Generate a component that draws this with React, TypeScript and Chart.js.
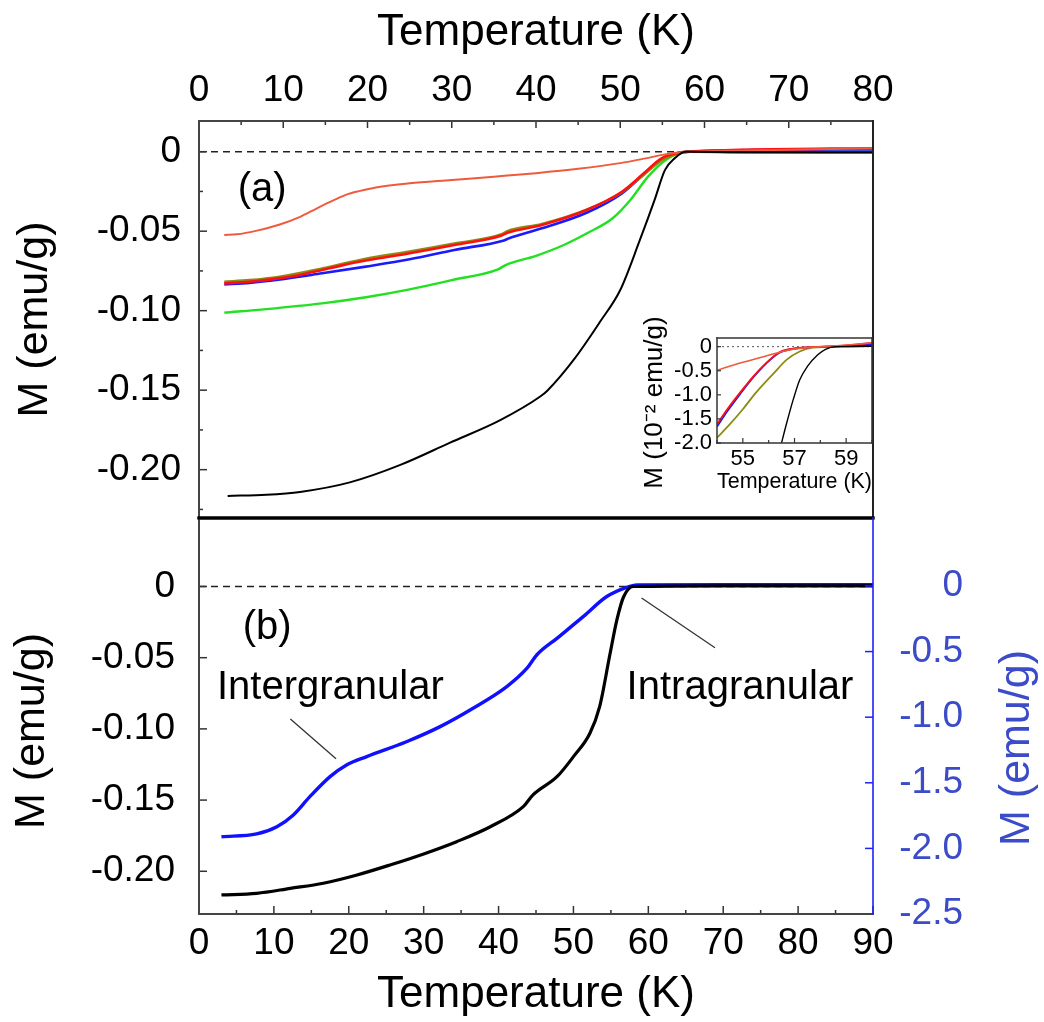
import React, { useEffect, useRef } from 'react';
import { Chart, registerables } from 'chart.js';

Chart.register(...registerables);

const FONT = "'Liberation Sans', Arial, Helvetica, sans-serif";

// ---------------- Panel (a) : axes ----------------
const tempTicksA = [0, 10, 20, 30, 40, 50, 60, 70, 80];
const tempTickLabelsA = ['0', '10', '20', '30', '40', '50', '60', '70', '80'];
const tempMinorA = [5, 15, 25, 35, 45, 55, 65, 75];
const magTicksA = [0, -0.05, -0.1, -0.15, -0.2];
const magTickLabelsA = ['0', '-0.05', '-0.10', '-0.15', '-0.20'];
const magMinorA = [-0.025, -0.075, -0.125, -0.175, -0.225];

// ---------------- Panel (a) : series ----------------
const tempTomatoA = [3, 4.5, 7, 9.5, 12, 14, 16, 17.5, 19, 21, 25, 30, 35, 40, 45, 50, 53, 55, 56.5, 58, 65, 80];
const magTomatoA = [-0.0524, -0.052, -0.0495, -0.046, -0.041, -0.0356, -0.0305, -0.027, -0.0248, -0.0225, -0.0199, -0.0178, -0.0157, -0.0135, -0.0108, -0.0072, -0.0042, -0.002, -0.0008, -0.0002, 0.0008, 0.0022];

const tempRedA = [3, 6, 9.4, 12, 14.6, 17, 19.8, 25, 30.3, 36, 36.6, 40.7, 46, 50.2, 52.8, 54.9, 57, 58.3, 65, 80];
const magRedA = [-0.0828, -0.0818, -0.0797, -0.0775, -0.0744, -0.0715, -0.0685, -0.0639, -0.0587, -0.0525, -0.051, -0.0461, -0.0367, -0.0252, -0.0136, -0.0042, -0.0006, 0, 0.0012, 0.0022];

const tempBlueA = [3, 6, 9.4, 14.6, 19.8, 25, 30.3, 36.2, 36.8, 40.7, 46, 50.2, 52.8, 54.9, 57, 58.3, 65, 80];
const magBlueA = [-0.0835, -0.0825, -0.0805, -0.0765, -0.0723, -0.0677, -0.0618, -0.0558, -0.0545, -0.0482, -0.0384, -0.0262, -0.0142, -0.0046, -0.0007, 0, 0.001, 0.0014];

const tempOliveA = [3, 6, 9.4, 14.6, 19.8, 25, 30.3, 36, 36.6, 40.7, 46, 50.2, 52.8, 54.9, 57, 58.3, 65, 80];
const magOliveA = [-0.0818, -0.0808, -0.0788, -0.0735, -0.0673, -0.0628, -0.0578, -0.0518, -0.05, -0.0455, -0.0365, -0.0255, -0.0145, -0.0055, -0.001, 0, -0.0005, -0.0007];

const tempGreenA = [3, 8, 14.6, 20, 25, 30, 35.5, 36.4, 40, 43.3, 46, 49.1, 51.2, 53.3, 55.4, 57.2, 58.3, 65, 80];
const magGreenA = [-0.1012, -0.099, -0.0954, -0.0914, -0.0866, -0.0808, -0.074, -0.0713, -0.0655, -0.0587, -0.0515, -0.0419, -0.0304, -0.0157, -0.0052, -0.0006, 0, 0, 0];

const tempBlackA = [3.4, 8, 12, 17.9, 23.9, 29.8, 35.7, 40.5, 41.4, 44.6, 47.6, 50, 52.3, 54.1, 55.3, 56.5, 57.7, 65, 80];
const magBlackA = [-0.2165, -0.2158, -0.214, -0.208, -0.197, -0.183, -0.169, -0.154, -0.15, -0.13, -0.107, -0.087, -0.056, -0.03, -0.0116, -0.004, 0, -0.0003, -0.0003];

const zeroTempA = [0, 80];
const zeroMagA = [0, 0];

// ---------------- Panel (b) : axes ----------------
const tempTicksB = [0, 10, 20, 30, 40, 50, 60, 70, 80, 90];
const tempTickLabelsB = ['0', '10', '20', '30', '40', '50', '60', '70', '80', '90'];
const tempMinorB = [5, 15, 25, 35, 45, 55, 65, 75, 85];
const magTicksB = [0, -0.05, -0.1, -0.15, -0.2];
const magTickLabelsB = ['0', '-0.05', '-0.10', '-0.15', '-0.20'];
const magRightTicksB = [0, -0.5, -1.0, -1.5, -2.0, -2.5];
const magRightTickLabelsB = ['0', '-0.5', '-1.0', '-1.5', '-2.0', '-2.5'];

// ---------------- Panel (b) : series ----------------
const tempBlackB = [3, 7.7, 12.2, 16.6, 21.1, 25.5, 30, 34.4, 38.9, 43.3, 44.6, 47.8, 50, 52.2, 53.5, 54.9, 55.8, 56.7, 58, 70, 90];
const magBlackB = [-0.2166, -0.2155, -0.212, -0.2084, -0.2026, -0.1956, -0.1878, -0.1792, -0.1687, -0.1546, -0.1464, -0.1336, -0.1195, -0.1031, -0.0844, -0.0469, -0.0235, -0.0072, 0, 0.0005, 0.0005];

const tempBlueB = [3, 7.7, 10.4, 12.6, 14.8, 17.5, 19.7, 22.4, 27.7, 32.2, 36.6, 41.1, 43.8, 45.1, 47.8, 51.3, 54.4, 57.1, 58.5, 70, 90];
const magBlueB = [-1.911, -1.89, -1.835, -1.745, -1.606, -1.453, -1.364, -1.3, -1.187, -1.072, -0.932, -0.767, -0.627, -0.526, -0.399, -0.234, -0.082, -0.01, 0.008, 0.01, 0.01];

const zeroTempB = [0, 90];
const zeroMagB = [0, 0];

// ---------------- Inset ----------------
const insetTempTicks = [55, 57, 59];
const insetTempTickLabels = ['55', '57', '59'];
const insetTempMinor = [54, 56, 58, 60];
const insetMagTicks = [0, -0.5, -1.0, -1.5, -2.0];
const insetMagTickLabels = ['0', '-0.5', '-1.0', '-1.5', '-2.0'];

const insetTempTomato = [54, 54.9, 55.8, 56.4, 56.95, 57.5, 58.5, 59.4, 60];
const insetMagTomato = [-0.49, -0.34, -0.21, -0.12, -0.055, -0.02, 0.014, 0.05, 0.08];
const insetTempRed = [54, 54.4, 54.9, 55.4, 55.9, 56.4, 56.95, 57.5, 58.8, 60];
const insetMagRed = [-1.61, -1.3, -0.95, -0.62, -0.34, -0.12, -0.04, -0.014, 0.014, 0.08];
const insetTempBlue = [54, 54.4, 54.9, 55.4, 55.9, 56.4, 56.95, 57.5, 58.8, 60];
const insetMagBlue = [-1.66, -1.34, -0.98, -0.64, -0.35, -0.13, -0.045, -0.015, 0.01, 0.04];
const insetTempOlive = [54, 54.5, 55.0, 55.5, 56.2, 56.7, 57.2, 57.7, 58.8, 60];
const insetMagOlive = [-1.89, -1.61, -1.3, -0.96, -0.55, -0.27, -0.1, -0.02, 0, 0.01];
const insetTempBlack = [56.45, 56.7, 56.95, 57.2, 57.5, 57.9, 58.2, 58.6, 60];
const insetMagBlack = [-2.1, -1.58, -1.1, -0.69, -0.41, -0.17, -0.055, 0, 0.01];
const insetZeroTemp = [54, 60];
const insetZeroMag = [0, 0];

// ---------------- helpers ----------------
const C_TOMATO = '#f05a3c';
const C_RED = '#ff1010';
const C_BLUE = '#1a1aff';
const C_GREEN = '#22e022';
const C_OLIVE = '#8c8c14';
const C_BLACK = '#000000';
const C_AXISBLUE = '#3c4bc8';

function series(xs: number[], ys: number[], color: string, width: number, extra: any = {}) {
  return {
    data: xs.map((x, i) => ({ x, y: ys[i] })),
    borderColor: color,
    backgroundColor: color,
    borderWidth: width,
    pointRadius: 0,
    fill: false,
    cubicInterpolationMode: 'monotone',
    ...extra,
  };
}

function axis(o: any) {
  const vertical = o.position === 'left' || o.position === 'right';
  return {
    type: 'linear',
    position: o.position,
    min: o.min,
    max: o.max,
    afterFit: (s: any) => {
      if (vertical) s.width = o.size;
      else s.height = o.size;
      s.paddingTop = 0;
      s.paddingBottom = 0;
      s.paddingLeft = 0;
      s.paddingRight = 0;
    },
    afterBuildTicks: (s: any) => {
      s.ticks = o.ticks.map((v: number) => ({ value: v }));
    },
    grid: { display: false, drawTicks: false, drawOnChartArea: false },
    border: { display: false },
    ticks: {
      autoSkip: false,
      maxRotation: 0,
      minRotation: 0,
      padding: o.pad,
      color: o.color || '#000',
      crossAlign: o.crossAlign || 'near',
      font: { family: FONT, size: o.fontSize, lineHeight: 1.2 },
      callback: (_v: any, i: number) => o.labels[i],
    },
    title: o.title
      ? {
          display: true,
          text: o.title,
          color: o.titleColor || '#000',
          font: { family: FONT, size: o.titleSize, lineHeight: 1.2 },
          padding: o.titlePad,
        }
      : { display: false },
  };
}

function makeOverlay(cfg: any) {
  return {
    id: 'overlay',
    afterDatasetsDraw(chart: any) {
      const { ctx, chartArea: ca, scales } = chart;
      ctx.save();
      // inward ticks
      for (const t of cfg.ticks || []) {
        const s = scales[t.scale];
        ctx.strokeStyle = t.color;
        ctx.lineWidth = t.width;
        const one = (v: number, len: number) => {
          const p = s.getPixelForValue(v);
          ctx.beginPath();
          if (s.position === 'left') { ctx.moveTo(ca.left, p); ctx.lineTo(ca.left + len, p); }
          else if (s.position === 'right') { ctx.moveTo(ca.right, p); ctx.lineTo(ca.right - len, p); }
          else if (s.position === 'top') { ctx.moveTo(p, ca.top); ctx.lineTo(p, ca.top + len); }
          else { ctx.moveTo(p, ca.bottom); ctx.lineTo(p, ca.bottom - len); }
          ctx.stroke();
        };
        t.major.forEach((v: number) => one(v, t.majorLen));
        (t.minor || []).forEach((v: number) => one(v, t.minorLen));
      }
      // frame edges
      ctx.lineCap = 'square';
      for (const e of cfg.edges || []) {
        ctx.strokeStyle = e.color;
        ctx.lineWidth = e.width;
        ctx.beginPath();
        if (e.side === 'left') { ctx.moveTo(ca.left, ca.top); ctx.lineTo(ca.left, ca.bottom); }
        if (e.side === 'right') { ctx.moveTo(ca.right, ca.top); ctx.lineTo(ca.right, ca.bottom); }
        if (e.side === 'top') { ctx.moveTo(ca.left, ca.top); ctx.lineTo(ca.right, ca.top); }
        if (e.side === 'bottom') { ctx.moveTo(ca.left, ca.bottom); ctx.lineTo(ca.right, ca.bottom); }
        ctx.stroke();
      }
      ctx.lineCap = 'butt';
      // leader lines (data coordinates)
      for (const l of cfg.lines || []) {
        const xs = scales[l.xScale];
        const ys = scales[l.yScale];
        ctx.strokeStyle = l.color;
        ctx.lineWidth = l.width;
        ctx.beginPath();
        ctx.moveTo(xs.getPixelForValue(l.x1), ys.getPixelForValue(l.y1));
        ctx.lineTo(xs.getPixelForValue(l.x2), ys.getPixelForValue(l.y2));
        ctx.stroke();
      }
      // texts
      for (const t of cfg.texts || []) {
        let x: number;
        let y: number;
        if (t.data) {
          x = scales[t.data.xScale].getPixelForValue(t.data.x);
          y = scales[t.data.yScale].getPixelForValue(t.data.y);
        } else {
          x = t.edge.side === 'left' ? ca.left - t.edge.offset : ca.right + t.edge.offset;
          y = (ca.top + ca.bottom) / 2 + t.edge.shift;
        }
        ctx.font = t.font;
        ctx.fillStyle = t.color;
        ctx.textAlign = t.align || 'center';
        ctx.textBaseline = 'middle';
        ctx.translate(x, y);
        if (t.rotate) ctx.rotate(t.rotate);
        ctx.fillText(t.text, 0, 0);
        ctx.setTransform(1, 0, 0, 1, 0, 0);
      }
      ctx.restore();
    },
  };
}

function baseOptions(padding: any) {
  return {
    responsive: false,
    maintainAspectRatio: false,
    animation: false,
    events: [],
    layout: { padding },
    plugins: { legend: { display: false }, tooltip: { enabled: false } },
    elements: { point: { radius: 0 } },
  };
}

function configA(): any {
  return {
    type: 'line',
    data: {
      datasets: [
        series(tempBlackA, magBlackA, C_BLACK, 2),
        series(tempTomatoA, magTomatoA, C_TOMATO, 2),
        series(tempRedA, magRedA, C_RED, 2.6),
        series(tempOliveA, magOliveA, C_OLIVE, 2.6),
        series(tempBlueA, magBlueA, C_BLUE, 2.6),
        series(tempGreenA, magGreenA, C_GREEN, 2.4),
        series(zeroTempA, zeroMagA, '#222', 1.6, { borderDash: [7, 5], cubicInterpolationMode: 'default' }),
      ],
    },
    options: {
      ...baseOptions({ left: 0, top: 0, right: 171, bottom: 10 }),
      scales: {
        x: axis({ position: 'top', min: 0, max: 80, size: 121, ticks: tempTicksA, labels: tempTickLabelsA, fontSize: 37, pad: 8, title: 'Temperature (K)', titleSize: 44, titlePad: { top: 6, bottom: 0 } }),
        y: axis({ position: 'left', min: -0.2304, max: 0.0193, size: 199, ticks: magTicksA, labels: magTickLabelsA, fontSize: 37, pad: 18, title: 'M (emu/g)', titleSize: 43, titlePad: { top: 9, bottom: 0 } }),
      },
    },
    plugins: [
      makeOverlay({
        ticks: [
          { scale: 'x', major: tempTicksA, minor: tempMinorA, majorLen: 7, minorLen: 4, color: '#333', width: 1.5 },
          { scale: 'y', major: magTicksA, minor: magMinorA, majorLen: 8, minorLen: 4, color: '#333', width: 1.5 },
        ],
        edges: [
          { side: 'left', color: '#444', width: 2 },
          { side: 'top', color: '#444', width: 2 },
          { side: 'right', color: '#222', width: 2 },
          { side: 'bottom', color: '#000', width: 3 },
        ],
        texts: [
          { text: '(a)', font: `40px ${FONT}`, color: '#000', data: { xScale: 'x', yScale: 'y', x: 7.5, y: -0.024 } },
        ],
      }),
    ],
  };
}

function configB(): any {
  return {
    type: 'line',
    data: {
      datasets: [
        series(tempBlackB, magBlackB, C_BLACK, 3.2),
        series(tempBlueB, magBlueB, '#1010ff', 3.4, { yAxisID: 'y2' }),
        series(zeroTempB, zeroMagB, '#222', 1.6, { borderDash: [7, 5], cubicInterpolationMode: 'default' }),
      ],
    },
    options: {
      ...baseOptions({ left: 0, top: 10, right: 81, bottom: 0 }),
      scales: {
        x: axis({ position: 'bottom', min: 0, max: 90, size: 108, ticks: tempTicksB, labels: tempTickLabelsB, fontSize: 37, pad: 8, title: 'Temperature (K)', titleSize: 44, titlePad: { top: 0, bottom: 1 } }),
        y: axis({ position: 'left', min: -0.23, max: 0.0481, size: 199, ticks: magTicksB, labels: magTickLabelsB, fontSize: 37, pad: 24 }),
        y2: axis({ position: 'right', min: -2.5, max: 0.518, size: 90, ticks: magRightTicksB, labels: magRightTickLabelsB, fontSize: 37, pad: 10, color: C_AXISBLUE, crossAlign: 'far' }),
      },
    },
    plugins: [
      makeOverlay({
        ticks: [
          { scale: 'x', major: tempTicksB, minor: tempMinorB, majorLen: 8, minorLen: 4, color: '#333', width: 1.5 },
          { scale: 'y', major: magTicksB, majorLen: 8, color: '#333', width: 1.5 },
          { scale: 'y2', major: magRightTicksB, majorLen: 8, color: '#2020ff', width: 1.5 },
        ],
        edges: [
          { side: 'left', color: '#444', width: 2 },
          { side: 'bottom', color: '#444', width: 2 },
          { side: 'top', color: '#000', width: 3 },
          { side: 'right', color: '#2020ff', width: 1.6 },
        ],
        lines: [
          { xScale: 'x', yScale: 'y', x1: 12.2, y1: -0.093, x2: 18.3, y2: -0.121, color: '#333', width: 1.3 },
          { xScale: 'x', yScale: 'y', x1: 59.1, y1: -0.0081, x2: 68.9, y2: -0.043, color: '#333', width: 1.3 },
        ],
        texts: [
          { text: '(b)', font: `40px ${FONT}`, color: '#000', data: { xScale: 'x', yScale: 'y', x: 9.1, y: -0.029 } },
          { text: 'Intergranular', font: `40px ${FONT}`, color: '#000', align: 'left', data: { xScale: 'x', yScale: 'y', x: 2.4, y: -0.0713 } },
          { text: 'Intragranular', font: `40px ${FONT}`, color: '#000', align: 'left', data: { xScale: 'x', yScale: 'y', x: 57.1, y: -0.071 } },
          { text: 'M (emu/g)', font: `43px ${FONT}`, color: '#000', rotate: -Math.PI / 2, edge: { side: 'left', offset: 167, shift: 15 } },
          { text: 'M (emu/g)', font: `43px ${FONT}`, color: C_AXISBLUE, rotate: -Math.PI / 2, edge: { side: 'right', offset: 144, shift: 32 } },
        ],
      }),
    ],
  };
}

function configI(): any {
  return {
    type: 'line',
    data: {
      datasets: [
        series(insetTempBlack, insetMagBlack, C_BLACK, 1.4),
        series(insetTempTomato, insetMagTomato, C_TOMATO, 1.6),
        series(insetTempRed, insetMagRed, C_RED, 1.8),
        series(insetTempBlue, insetMagBlue, C_BLUE, 1.8),
        series(insetTempOlive, insetMagOlive, C_OLIVE, 1.8),
        series(insetZeroTemp, insetZeroMag, '#555', 1, { borderDash: [2, 3], cubicInterpolationMode: 'default' }),
      ],
    },
    options: {
      ...baseOptions({ left: 0, top: 28, right: 1, bottom: 0 }),
      scales: {
        x: axis({ position: 'bottom', min: 54, max: 60, size: 52, ticks: insetTempTicks, labels: insetTempTickLabels, fontSize: 22, pad: 3, title: 'Temperature (K)', titleSize: 22, titlePad: { top: 0, bottom: 0 } }),
        y: axis({ position: 'left', min: -2.0, max: 0.18, size: 87, ticks: insetMagTicks, labels: insetMagTickLabels, fontSize: 22, pad: 5 }),
      },
    },
    plugins: [
      makeOverlay({
        ticks: [
          { scale: 'x', major: insetTempTicks, minor: insetTempMinor, majorLen: 5, minorLen: 3, color: '#333', width: 1.2 },
          { scale: 'y', major: insetMagTicks, majorLen: 4, color: '#333', width: 1.2 },
        ],
        edges: [
          { side: 'left', color: '#333', width: 1.5 },
          { side: 'top', color: '#333', width: 1.5 },
          { side: 'bottom', color: '#333', width: 1.5 },
          { side: 'right', color: '#333', width: 1.5 },
        ],
        texts: [
          { text: 'M (10⁻² emu/g)', font: `26px ${FONT}`, color: '#000', rotate: -Math.PI / 2, edge: { side: 'left', offset: 62, shift: 12 } },
        ],
      }),
    ],
  };
}

export default function App() {
  const refA = useRef<HTMLCanvasElement>(null);
  const refB = useRef<HTMLCanvasElement>(null);
  const refI = useRef<HTMLCanvasElement>(null);

  useEffect(() => {
    const charts: Chart[] = [];
    if (refA.current) charts.push(new Chart(refA.current, configA()));
    if (refB.current) charts.push(new Chart(refB.current, configB()));
    if (refI.current) charts.push(new Chart(refI.current, configI()));
    return () => charts.forEach((c) => c.destroy());
  }, []);

  return (
    <div style={{ position: 'fixed', left: 0, top: 0, width: 1044, height: 1022, background: '#fff' }}>
      <canvas ref={refA} width={1044} height={528} style={{ position: 'absolute', left: 0, top: 0, width: 1044, height: 528 }} />
      <canvas ref={refB} width={1044} height={514} style={{ position: 'absolute', left: 0, top: 508, width: 1044, height: 514 }} />
      <canvas ref={refI} width={243} height={185} style={{ position: 'absolute', left: 630, top: 310, width: 243, height: 185 }} />
    </div>
  );
}
